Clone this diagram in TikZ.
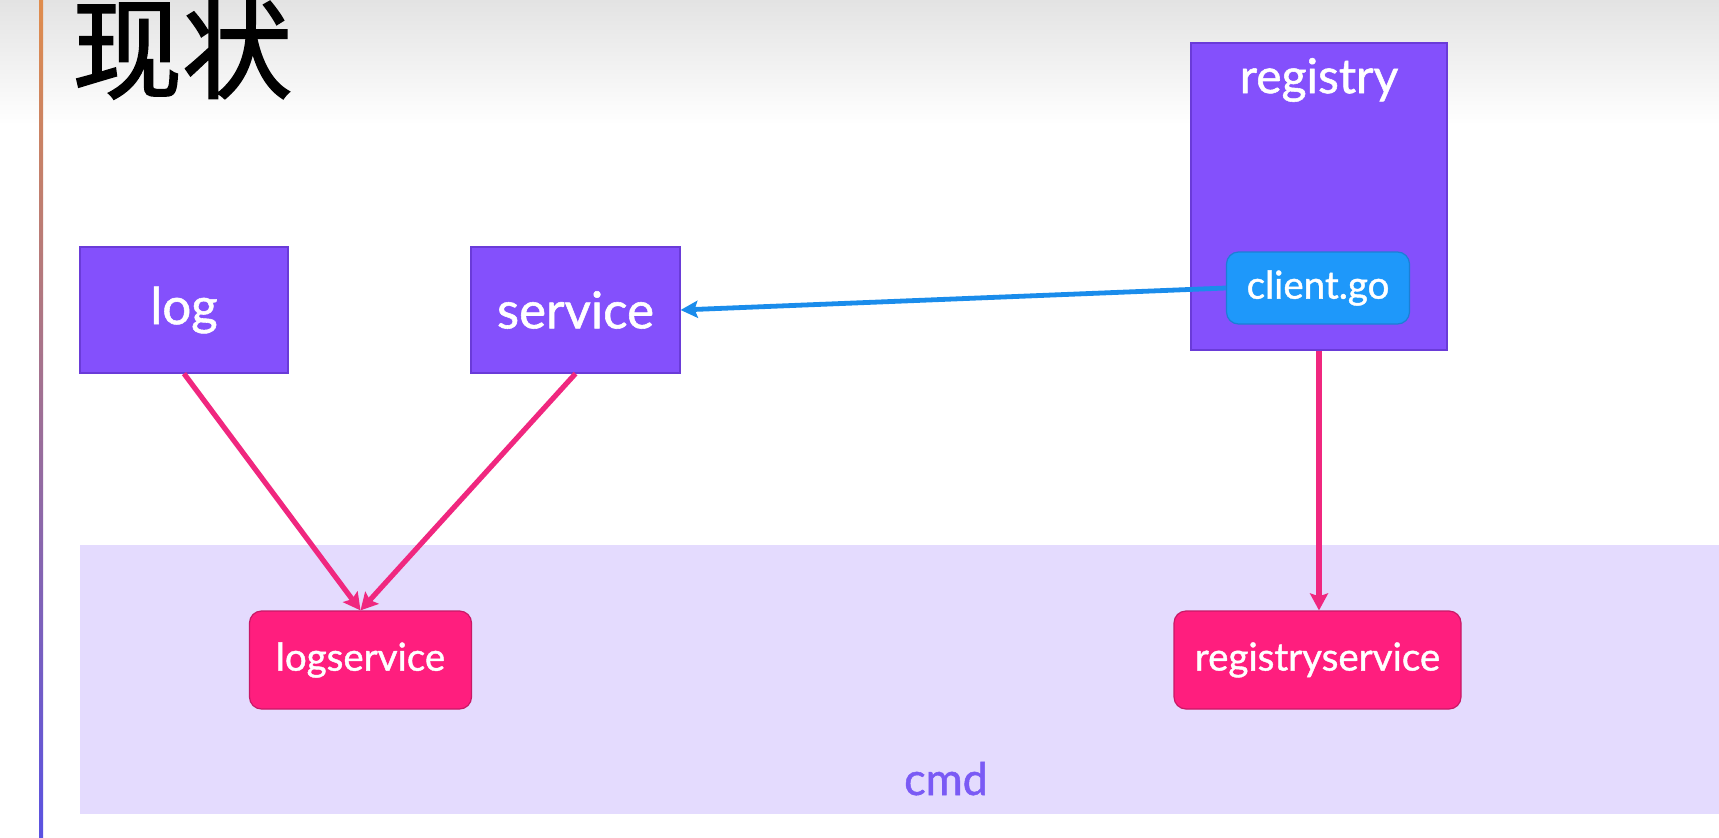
\documentclass[tikz,border=0pt]{standalone}
\usepackage{fontspec}
\setmainfont{Lato}[RawFeature={embolden=1.1}]
\newfontfamily\cjk{Noto Sans CJK SC}[RawFeature={embolden=1.6}]
\usetikzlibrary{arrows.meta}

\definecolor{boxpurple}{HTML}{8450FC}
\definecolor{boxpurpleline}{HTML}{6A3BD8}
\definecolor{boxpink}{HTML}{FF1E7E}
\definecolor{boxpinkline}{HTML}{C81866}
\definecolor{boxblue}{HTML}{1E98FA}
\definecolor{boxblueline}{HTML}{1B7FD6}
\definecolor{arrowpink}{HTML}{F0277F}
\definecolor{arrowblue}{HTML}{1A8CEB}
\definecolor{cmdfill}{HTML}{E4DBFE}
\definecolor{cmdtext}{HTML}{7A5AF5}
\definecolor{barorange}{HTML}{E08C4C}
\definecolor{barpink}{HTML}{E08A96}
\definecolor{barblue}{HTML}{5A52E2}

\tikzset{
  pkgbox/.style={draw=boxpurpleline, fill=boxpurple, line width=1.2pt, text=white,
    inner sep=0pt, font=\fontsize{51}{58}\selectfont},
  svcbox/.style={draw=boxpinkline, fill=boxpink, line width=1.2pt, text=white,
    rounded corners=12pt, inner sep=0pt, font=\fontsize{38.5}{44}\selectfont},
  filebox/.style={draw=boxblueline, fill=boxblue, line width=1.2pt, text=white,
    rounded corners=12pt, inner sep=0pt, font=\fontsize{38.5}{44}\selectfont},
  deparrow/.style={draw=arrowpink, line width=5.2pt,
    -{Stealth[length=17pt,width=18pt,inset=3pt]}},
  callarrow/.style={draw=arrowblue, line width=4.8pt,
    -{Stealth[length=17pt,width=17pt,inset=3pt]}},
}

\begin{document}
\begin{tikzpicture}[x=1pt,y=-1pt]
\useasboundingbox (0,0) rectangle (1719,838);
\fill[white] (0,0) rectangle (1719,838);
% slide header fade
\shade[top color=black!11, bottom color=white] (0,0) rectangle (1719,125);
% accent bar on the left edge
\shade[top color=barorange, middle color=barpink, bottom color=barblue] (39,0) rectangle (43,838);

% title
\node[anchor=base west, inner sep=0pt, font=\cjk\fontsize{110}{120}\selectfont] (title) at (72,90) {现状};

% cmd area
\fill[cmdfill] (80,545) rectangle (1719,814);
\node[anchor=base, inner sep=0pt, text=cmdtext, font=\fontsize{45}{50}\selectfont] (cmd) at (946,795) {cmd};

% packages
\node[pkgbox, minimum width=208pt, minimum height=126pt] (log) at (184,310) {log};
\node[pkgbox, minimum width=209pt, minimum height=126pt] (service) at (575.5,310) {service};
\node[pkgbox, minimum width=256pt, minimum height=307pt] (registry) at (1319,196.5) {};
\node[anchor=center, inner sep=0pt, text=white, font=\fontsize{48}{54}\selectfont] (regtitle) at (1319,80) {registry};
\node[filebox, minimum width=183pt, minimum height=72pt] (client) at (1318,288) {client.go};

% commands
\node[svcbox, minimum width=222pt, minimum height=98pt] (logsvc) at (360.5,660) {logservice};
\node[svcbox, minimum width=287pt, minimum height=98pt] (regsvc) at (1317.5,660) {registryservice};

% dependencies
\draw[deparrow] (log.south) -- (logsvc.north);
\draw[deparrow] (service.south) -- (logsvc.north);
\draw[deparrow] (registry.south) -- (registry.south |- regsvc.north);
\draw[callarrow] (client.west) -- (service.east);
\end{tikzpicture}
\end{document}
